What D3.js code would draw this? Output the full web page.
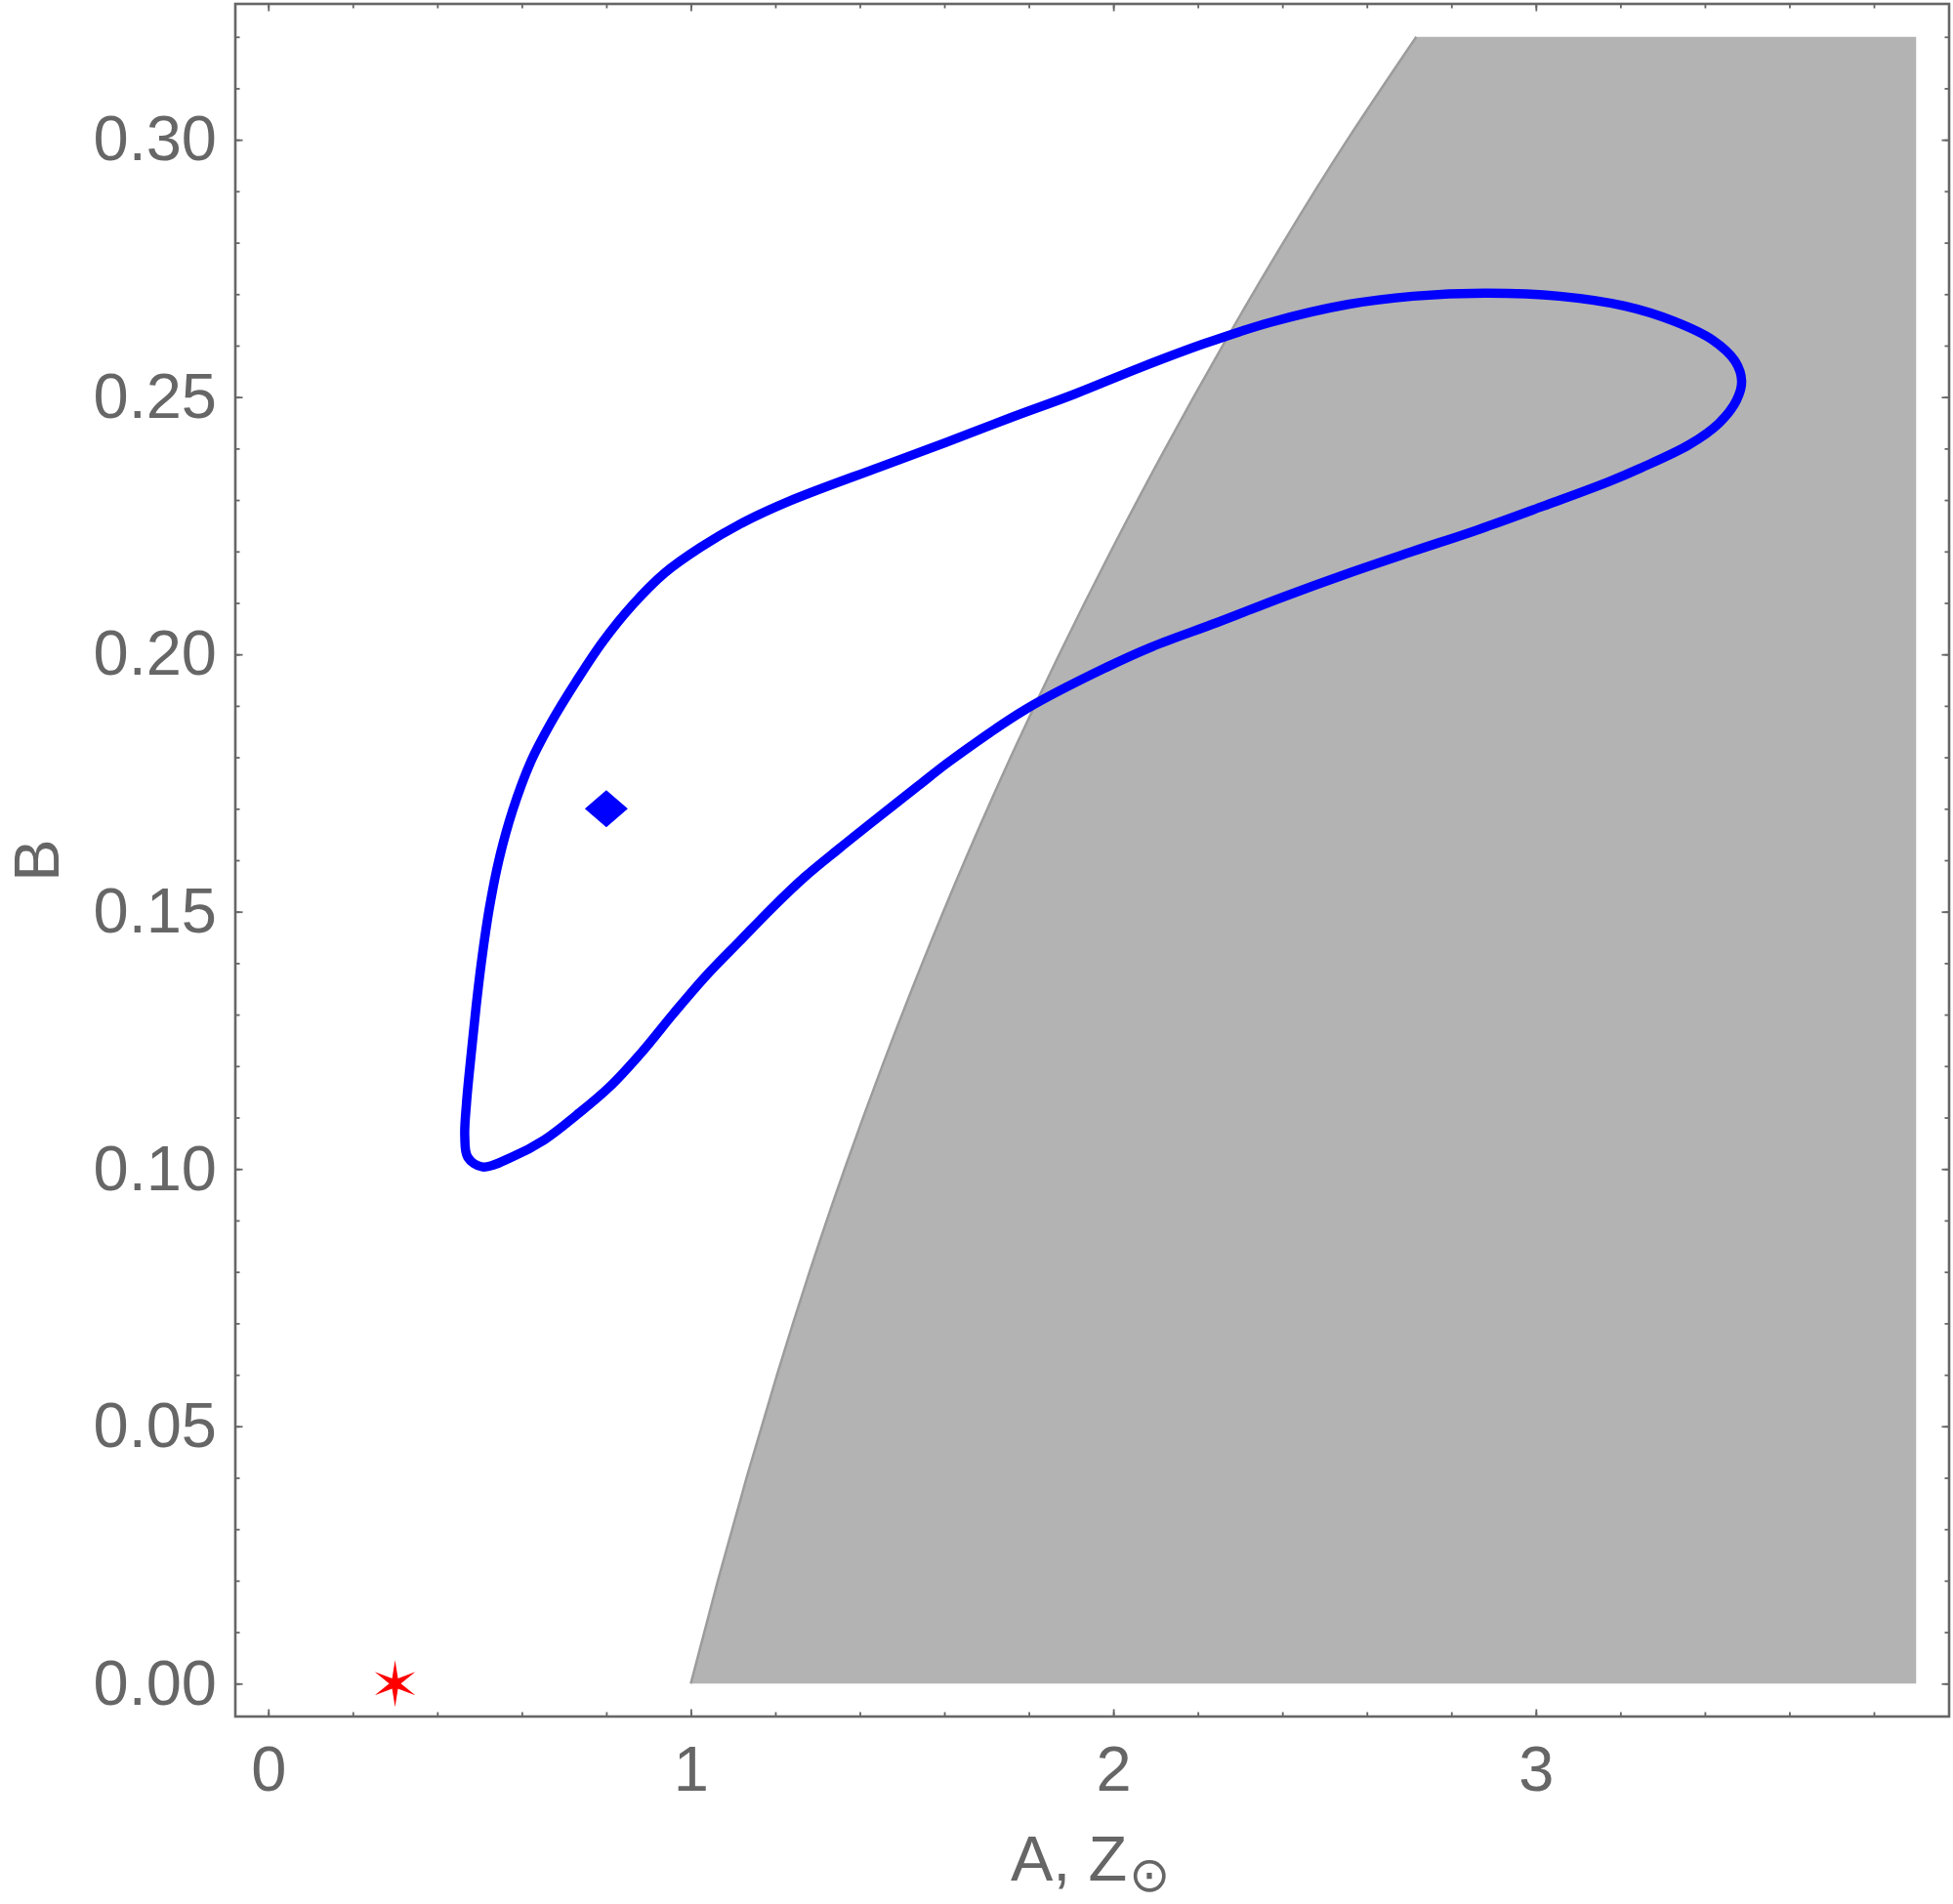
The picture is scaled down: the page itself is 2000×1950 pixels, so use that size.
<!DOCTYPE html>
<html><head><meta charset="utf-8">
<script src="https://cdn.jsdelivr.net/npm/d3@7"></script>
<style>html,body{margin:0;padding:0;background:#fff;} svg{display:block;}</style>
</head><body>
<svg id="chart" width="2000" height="1950"></svg>
<script>
// ---------- data ----------
const xTickValues = [0, 1, 2, 3];
const yTickValues = [0, 0.05, 0.10, 0.15, 0.20, 0.25, 0.30];

// left edge of the excluded (grey) region
const boundaryB = [0.00, 0.02, 0.04, 0.06, 0.08, 0.10, 0.12, 0.14, 0.16, 0.18, 0.20, 0.22, 0.24, 0.26, 0.28, 0.30, 0.32];
const boundaryA = [1.000, 1.064, 1.132, 1.204, 1.281, 1.364, 1.453, 1.548, 1.649, 1.757, 1.872, 1.994, 2.123, 2.259, 2.402, 2.554, 2.717];
const regionMaxA = 3.9;
const regionMaxB = 0.32;
const regionMinB = 0.0;

// confidence contour (closed)
const contourA = [0.507, 0.576, 0.654, 0.730, 0.807, 0.885, 0.961, 1.038, 1.116, 1.192, 1.269, 1.347, 1.423, 1.539, 1.614, 1.792, 1.984, 2.092, 2.246, 2.400, 2.554, 2.708, 2.862, 3.017, 3.171, 3.248, 3.364, 3.433, 3.475, 3.487, 3.472, 3.418, 3.325, 3.210, 3.056, 2.879, 2.709, 2.555, 2.371, 2.216, 2.063, 1.909, 1.754, 1.601, 1.447, 1.231, 1.116, 1.023, 0.938, 0.861, 0.792, 0.730, 0.669, 0.621, 0.578, 0.546, 0.523, 0.506, 0.492, 0.480, 0.469, 0.465, 0.472];
const contourB = [0.1004, 0.1023, 0.1057, 0.1105, 0.1159, 0.1228, 0.1304, 0.1377, 0.1443, 0.1507, 0.1567, 0.1620, 0.1670, 0.1745, 0.1793, 0.1893, 0.1975, 0.2015, 0.2062, 0.2111, 0.2157, 0.2200, 0.2242, 0.2288, 0.2335, 0.2362, 0.2408, 0.2449, 0.2494, 0.2531, 0.2569, 0.2611, 0.2648, 0.2677, 0.2696, 0.2702, 0.2696, 0.2680, 0.2645, 0.2604, 0.2557, 0.2506, 0.2459, 0.2411, 0.2364, 0.2297, 0.2253, 0.2208, 0.2158, 0.2095, 0.2025, 0.1949, 0.1867, 0.1791, 0.1696, 0.1601, 0.1506, 0.1412, 0.1317, 0.1222, 0.1127, 0.1064, 0.1023];

const bestFitA = [0.8];
const bestFitB = [0.17];
const starA = [0.3];
const starB = [0.0];

// ---------- drawing ----------
(function () {
const svg = d3.select("#chart");
const W = 2000, H = 1950;
const mLeft = 241, mRight = 1996, mTop = 4, mBottom = 1758;
const axisColor = "#666666";
const fontFam = "'Liberation Sans', Arial, Helvetica, sans-serif";

const x = d3.scaleLinear().domain([-0.078, 3.978]).range([mLeft, mRight]);
const y = d3.scaleLinear().domain([-0.0064, 0.3264]).range([mBottom, mTop]);

svg.append("rect").attr("width", W).attr("height", H).attr("fill", "#ffffff");

const plot = svg.append("g");

// grey region
const bPts = boundaryA.map((a, i) => [a, boundaryB[i]]);
const bLine = d3.line().x(d => x(d[0])).y(d => y(d[1])).curve(d3.curveNatural);
const bPath = bLine(bPts);
plot.append("path")
  .attr("d", bPath + `L${x(regionMaxA)},${y(regionMaxB)}L${x(regionMaxA)},${y(regionMinB)}Z`)
  .attr("fill", "#b3b3b3").attr("stroke", "none");
plot.append("path")
  .attr("d", bPath)
  .attr("fill", "none").attr("stroke", "#9c9c9c").attr("stroke-width", 2.5);

// contour
const cPts = contourA.map((a, i) => [a, contourB[i]]);
plot.append("path")
  .attr("d", d3.line().x(d => x(d[0])).y(d => y(d[1])).curve(d3.curveCatmullRomClosed.alpha(0.5))(cPts))
  .attr("fill", "none").attr("stroke", "#0000ff").attr("stroke-width", 9.5)
  .attr("stroke-linejoin", "round");

// diamond marker
const diamond = d3.line()([[0, -19], [22, 0], [0, 19], [-22, 0]]) + "Z";
plot.selectAll("path.diamond").data(bestFitA.map((a, i) => [a, bestFitB[i]])).enter()
  .append("path").attr("class", "diamond")
  .attr("transform", d => `translate(${x(d[0])},${y(d[1])})`)
  .attr("d", diamond).attr("fill", "#0000ff");

// six-pointed star marker
const starPts = d3.range(12).map(k => [k * Math.PI / 6, k % 2 === 0 ? 24 : 6]);
const star = d3.lineRadial().angle(d => d[0]).radius(d => d[1]).curve(d3.curveLinearClosed)(starPts);
plot.selectAll("path.star").data(starA.map((a, i) => [a, starB[i]])).enter()
  .append("path").attr("class", "star")
  .attr("transform", d => `translate(${x(d[0])},${y(d[1])})`)
  .attr("d", star).attr("fill", "#ff0000");

// frame
svg.append("rect")
  .attr("x", mLeft).attr("y", mTop).attr("width", mRight - mLeft).attr("height", mBottom - mTop)
  .attr("fill", "none").attr("stroke", axisColor).attr("stroke-width", 2.6);

const minorX = d3.range(0, 3.95, 0.2);
const minorY = d3.range(0, 0.3250, 0.01);

function styleAxis(g) {
  g.select(".domain").remove();
  g.selectAll(".tick line").attr("stroke", axisColor).attr("stroke-width", 1.8);
  g.selectAll(".tick text").attr("fill", axisColor).attr("font-family", fontFam).attr("font-size", 65);
}

// bottom
svg.append("g").attr("transform", `translate(0,${mBottom})`)
  .call(d3.axisBottom(x).tickValues(minorX).tickSize(-4.5).tickFormat("")).call(styleAxis);
svg.append("g").attr("transform", `translate(0,${mBottom})`)
  .call(d3.axisBottom(x).tickValues(xTickValues).tickSize(-7.5).tickPadding(30).tickFormat(d3.format("d"))).call(styleAxis);
// top
svg.append("g").attr("transform", `translate(0,${mTop})`)
  .call(d3.axisTop(x).tickValues(minorX).tickSize(-4.5).tickFormat("")).call(styleAxis);
svg.append("g").attr("transform", `translate(0,${mTop})`)
  .call(d3.axisTop(x).tickValues(xTickValues).tickSize(-7.5).tickFormat("")).call(styleAxis);
// left
svg.append("g").attr("transform", `translate(${mLeft},0)`)
  .call(d3.axisLeft(y).tickValues(minorY).tickSize(-4.5).tickFormat("")).call(styleAxis);
svg.append("g").attr("transform", `translate(${mLeft},0)`)
  .call(d3.axisLeft(y).tickValues(yTickValues).tickSize(-7.5).tickPadding(19).tickFormat(d3.format(".2f"))).call(styleAxis);
// right
svg.append("g").attr("transform", `translate(${mRight},0)`)
  .call(d3.axisRight(y).tickValues(minorY).tickSize(-4.5).tickFormat("")).call(styleAxis);
svg.append("g").attr("transform", `translate(${mRight},0)`)
  .call(d3.axisRight(y).tickValues(yTickValues).tickSize(-7.5).tickFormat("")).call(styleAxis);

// axis titles
const xt = svg.append("text")
  .attr("x", (mLeft + mRight) / 2 - 2).attr("y", 1926)
  .attr("text-anchor", "middle").attr("fill", axisColor)
  .attr("font-family", fontFam).attr("font-size", 65);
xt.append("tspan").text("A, Z");
xt.append("tspan").attr("dx", 2).attr("dy", 11).attr("font-size", 50).attr("font-family", "'DejaVu Sans', sans-serif").text("\u2299");

svg.append("text")
  .attr("transform", `translate(60,${(mTop + mBottom) / 2}) rotate(-90)`)
  .attr("text-anchor", "middle").attr("fill", axisColor)
  .attr("font-family", fontFam).attr("font-size", 65)
  .text("B");
})();
</script>
</body></html>
